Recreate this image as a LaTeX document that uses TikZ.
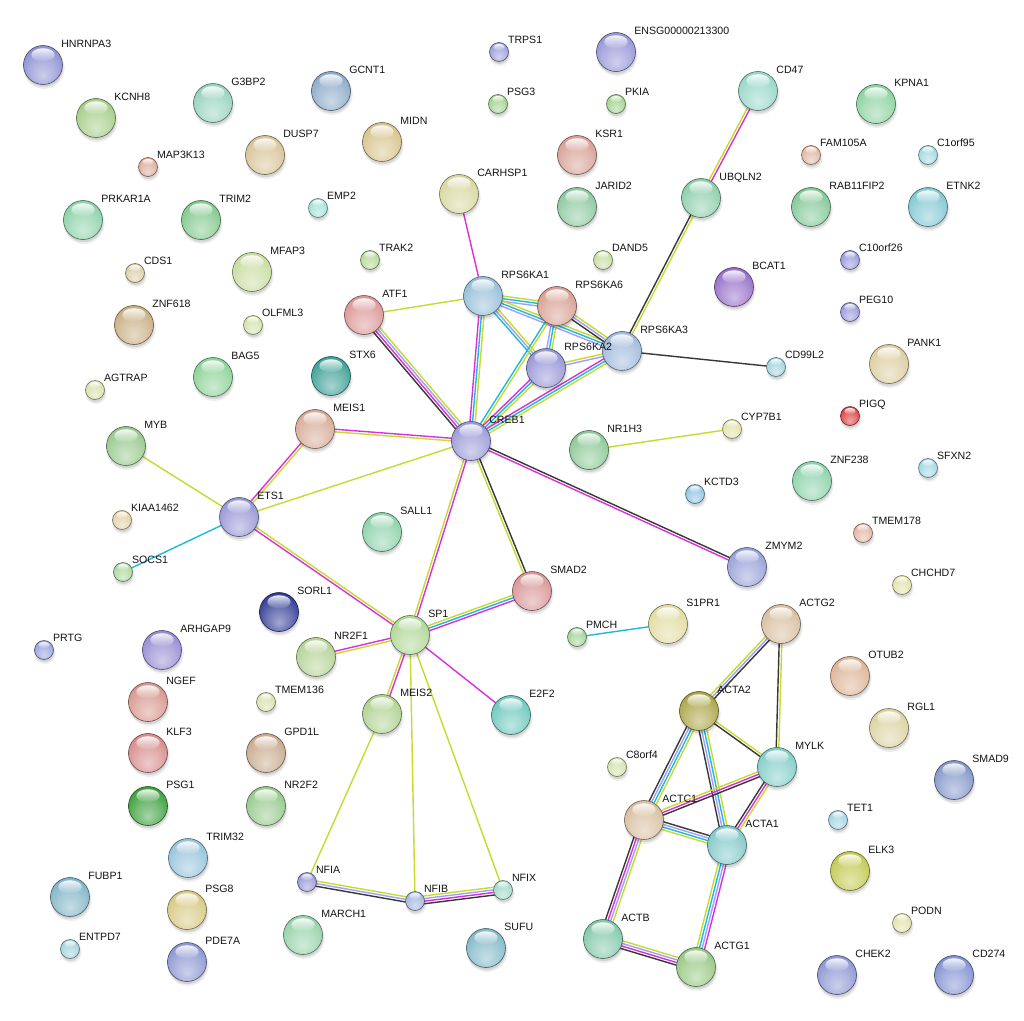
\documentclass[tikz,border=0pt]{standalone}
\usepackage{fontspec}
\setmainfont{Liberation Sans}
\usetikzlibrary{calc,fadings,backgrounds}
\definecolor{ygE}{RGB}{199,218,46}
\definecolor{mgE}{RGB}{218,48,218}
\definecolor{cyE}{RGB}{30,185,220}
\definecolor{lvE}{RGB}{160,160,250}
\definecolor{bkE}{RGB}{55,55,55}
\colorlet{pc}{gray}
\pgfdeclareradialshading[pc]{strball}{\pgfpoint{0bp}{-14bp}}{color(0bp)=(pc!45!white); color(16bp)=(pc!72!white); color(30bp)=(pc); color(42bp)=(pc!88!black); color(52bp)=(pc!62!black)}
\newcommand\sedge[3]{%
 \def\secnt{0}%
 \foreach \ec in {#3}{\xdef\secnt{\the\numexpr\secnt+1\relax}}%
 \foreach \ec [count=\ei] in {#3}{%
  \pgfmathsetmacro\eoff{(\ei-(\secnt+1)/2)*2.6}%
  \draw[\ec, line width=1.4pt] ($(#1)!\eoff pt!90:(#2)$) -- ($(#2)!\eoff pt!-90:(#1)$);}}
\def\plist{HNRNPA3/43/65/19.5/8C91D2, KCNH8/96/118/19.5/A5CD87, G3BP2/213/103/19.5/96D2BE, GCNT1/331/91/19.5/8CAAC8,
TRPS1/499/52/9.5/9B9BDC, ENSG00000213300/616/52/19.5/9696D7, PSG3/498/104/9.5/A0D28C, PKIA/616/104/9.5/A0D28C,
CD47/758/91/19.5/96D7C8, KPNA1/876/104/19.5/8CD2A0, MAP3K13/148/167/9.5/DCAA96, DUSP7/265/155/19.5/D7C396,
MIDN/382/142/19.5/D7C38C, KSR1/577/155/19.5/D7A096, FAM105A/811/155/9.5/E1B4A0, C1orf95/928/155/9.5/A0D7DC,
PRKAR1A/83/220/19.5/8CD2AA, TRIM2/201/220/19.5/82C88C, EMP2/318/208/9.5/A0E1D2, CARHSP1/459/194/19.5/D7D7A0,
JARID2/577/207/19.5/8CC8A0, UBQLN2/701/198/19.5/8CCDAA, RAB11FIP2/811/207/19.5/82C896, ETNK2/928/207/19.5/82C8D2,
CDS1/135/273/9.5/DCCDA5, MFAP3/252/272/19.5/C8DCA0, TRAK2/370/260/9.5/B4D796, DAND5/603/260/9.5/C8DCA0,
BCAT1/734/287/19.5/966EC8, C10orf26/850/260/9.5/9696DC, ZNF618/134/325/19.5/C8AF82, OLFML3/253/325/9.5/D2E1AA,
ATF1/364/315/19.5/DC9696, RPS6KA1/483/296/19.5/96BED7, RPS6KA6/557/306/19.5/D7A091, RPS6KA3/622/351/19.5/A0B9DC,
RPS6KA2/546/368/19.5/9696D7, PEG10/850/312/9.5/9696DC, PANK1/889/364/19.5/DCCDA0, AGTRAP/95/390/9.5/D7E1AA,
BAG5/213/377/19.5/8CD296, STX6/331/376/19.5/3CA096, CD99L2/776/367/9.5/A0D2DC, PIGQ/850/416/9.5/DC3C3C,
MEIS1/315/429/19.5/D7AA96, CREB1/471/441/19.5/9B9BD7, CYP7B1/732/429/9.5/E1E1AA, MYB/126/446/19.5/96C88C,
NR1H3/589/450/19.5/8CC896, SFXN2/928/468/9.5/A0D7E1, ZNF238/812/481/19.5/8CD2AA, KCTD3/695/494/9.5/8CC3E1,
ETS1/239/517/19.5/9696D7, KIAA1462/122/520/9.5/E1D2A5, SALL1/382/532/19.5/8CD2AA, TMEM178/863/533/9.5/E1B4A0,
SOCS1/123/572/9.5/AAD79B, ZMYM2/747/567/19.5/96A0D7, CHCHD7/902/585/9.5/E1E1AA, SMAD2/532/591/19.5/D79696,
SORL1/279/612/19.5/323C96, S1PR1/668/624/19.5/E1DCA0, ACTG2/781/624/19.5/D7BEA0, SP1/410/635/19.5/AFD796,
PMCH/577/637/9.5/A0D296, PRTG/44/650/9.5/96A0DC, ARHGAP9/162/650/19.5/968CD2, NR2F1/316/657/19.5/B4D296,
OTUB2/850/676/19.5/DCB496, NGEF/148/702/19.5/D7968C, TMEM136/266/702/9.5/D7E1AA, MEIS2/382/714/19.5/AFD291,
E2F2/511/715/19.5/6EC8BE, ACTA2/699/711/19.5/AAA546, RGL1/889/728/19.5/DCD2A0, KLF3/148/753/19.5/D78C8C,
GPD1L/266/753/19.5/C8AA8C, C8orf4/617/767/9.5/D2E1AA, MYLK/777/767/19.5/82CDC8, SMAD9/954/780/19.5/8296C8,
PSG1/148/806/19.5/3CA03C, NR2F2/266/806/19.5/96C88C, ACTC1/644/820/19.5/D7BEA0, ACTA1/727/845/19.5/82C8C8,
TET1/838/820/9.5/A0D2E1, TRIM32/188/858/19.5/96C3DC, ELK3/850/871/19.5/C3C850, NFIA/307/882/9.5/9696D7,
NFIX/503/890/9.5/A0D7C8, NFIB/415/901/9.5/A0B4DC, FUBP1/70/897/19.5/82B4C8, PSG8/187/910/19.5/D7C882,
PODN/902/923/9.5/E1E1AA, MARCH1/303/935/19.5/96D2AA, SUFU/486/948/19.5/82B9C8, ACTB/603/939/19.5/82C8AA,
ENTPD7/70/949/9.5/A0D2DC, PDE7A/187/962/19.5/8C96D2, ACTG1/696/967/19.5/96C882, CHEK2/837/975/19.5/8C96D2,
CD274/954/975/19.5/8291D2}
\begin{document}
\begin{tikzpicture}[x=1pt,y=-1pt,
  lab/.style={font=\fontsize{10.6}{12}\selectfont, text=black!92, inner sep=0pt, anchor=base west}]
\useasboundingbox (0,0) rectangle (1024,1020);
% proteins
\foreach \pn/\px/\py/\pr/\pcol in \plist {
  \definecolor{pc}{HTML}{\pcol}
  \fill[black, opacity=0.07] (\px+1,\py+3.2) circle ({\pr+1.2});
  \fill[black, opacity=0.10] (\px+0.6,\py+2.6) circle ({\pr});
  \node[circle, inner sep=0pt, minimum size={2*\pr pt}, shade, shading=strball,
        draw=pc!50!black, line width=0.6pt] (\pn) at (\px,\py) {};
  \fill[white, path fading=south, fill opacity=0.9] ($(\pn)+(0,{-0.52*\pr})$) ellipse ({0.6*\pr} and {0.34*\pr});
  \node[lab] (\pn-lab) at ($(\pn)+({0.93*\pr},{-0.92*\pr})$) {\pn};
}
% connectors
\begin{scope}[on background layer]
\fill[white] (0,0) rectangle (1024,1020);
\sedge{CARHSP1}{RPS6KA1}{mgE}
\sedge{CD47}{UBQLN2}{ygE,mgE}
\sedge{UBQLN2}{RPS6KA3}{bkE,ygE}
\sedge{ATF1}{RPS6KA1}{ygE}
\sedge{ATF1}{CREB1}{bkE,mgE,lvE,ygE}
\sedge{RPS6KA1}{RPS6KA6}{lvE,cyE,ygE}
\sedge{RPS6KA1}{RPS6KA3}{lvE,cyE,ygE}
\sedge{RPS6KA1}{RPS6KA2}{cyE,lvE,ygE}
\sedge{RPS6KA1}{CREB1}{mgE,cyE,ygE}
\sedge{RPS6KA6}{RPS6KA3}{bkE,lvE,ygE}
\sedge{RPS6KA6}{RPS6KA2}{lvE,cyE,ygE}
\sedge{RPS6KA6}{CREB1}{cyE,ygE}
\sedge{RPS6KA2}{RPS6KA3}{lvE,ygE}
\sedge{RPS6KA2}{CREB1}{mgE,cyE,ygE}
\sedge{RPS6KA3}{CREB1}{mgE,cyE,ygE}
\sedge{RPS6KA3}{CD99L2}{bkE}
\sedge{MEIS1}{CREB1}{ygE,mgE}
\sedge{MEIS1}{ETS1}{mgE,ygE}
\sedge{ETS1}{CREB1}{ygE}
\sedge{MYB}{ETS1}{ygE}
\sedge{SOCS1}{ETS1}{cyE}
\sedge{ETS1}{SP1}{mgE,ygE}
\sedge{CREB1}{SP1}{ygE,mgE}
\sedge{CREB1}{SMAD2}{ygE,bkE}
\sedge{CREB1}{ZMYM2}{mgE,bkE}
\sedge{NR1H3}{CYP7B1}{ygE}
\sedge{SP1}{SMAD2}{mgE,cyE,ygE}
\sedge{SP1}{NR2F1}{mgE,ygE}
\sedge{SP1}{MEIS2}{ygE,mgE}
\sedge{SP1}{E2F2}{mgE}
\sedge{SP1}{NFIB}{ygE}
\sedge{SP1}{NFIX}{ygE}
\sedge{MEIS2}{NFIA}{ygE}
\sedge{NFIA}{NFIB}{bkE,lvE,ygE}
\sedge{NFIB}{NFIX}{bkE,mgE,lvE,ygE}
\sedge{PMCH}{S1PR1}{cyE}
\sedge{ACTG2}{ACTA2}{ygE,lvE,bkE}
\sedge{ACTG2}{MYLK}{bkE,ygE}
\sedge{ACTA2}{MYLK}{bkE,ygE}
\sedge{ACTA2}{ACTC1}{bkE,lvE,cyE,ygE}
\sedge{ACTA2}{ACTA1}{bkE,lvE,cyE,ygE}
\sedge{MYLK}{ACTC1}{ygE,mgE,bkE}
\sedge{MYLK}{ACTA1}{bkE,mgE,ygE}
\sedge{ACTC1}{ACTA1}{ygE,cyE,lvE,bkE}
\sedge{ACTC1}{ACTB}{bkE,mgE,lvE,ygE}
\sedge{ACTA1}{ACTG1}{ygE,cyE,lvE,mgE}
\sedge{ACTB}{ACTG1}{bkE,mgE,lvE,ygE}
\end{scope}
\end{tikzpicture}
\end{document}
